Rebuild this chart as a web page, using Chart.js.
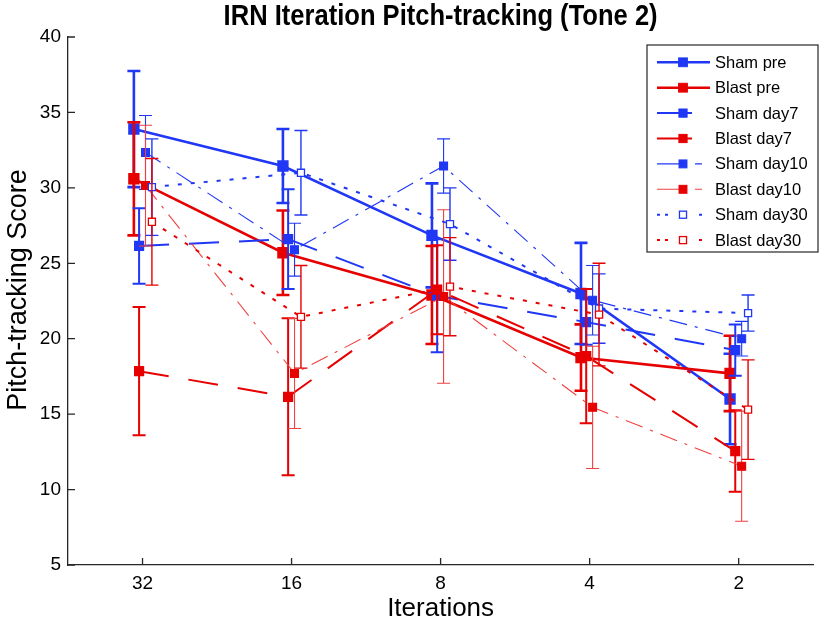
<!DOCTYPE html>
<html>
<head>
<meta charset="utf-8">
<script src="https://cdn.jsdelivr.net/npm/chart.js@4.4.1/dist/chart.umd.min.js"></script>
<style>
  html, body { margin: 0; padding: 0; background: #fff; }
  canvas { display: block; }
</style>
</head>
<body>
<canvas id="pitchChart" width="822" height="625"></canvas>
<script>
// categories on the x axis (IRN iterations)
const categories = ['32', '16', '8', '4', '2'];
const yTickStep = 5;

// mean scores and error half-widths
const shamPre = [33.9, 31.45, 26.85, 23.0, 16.0];
const shamPreErr = [3.85, 2.45, 3.45, 3.35, 3.0];
const blastPre = [30.6, 25.7, 22.9, 18.75, 17.7];
const blastPreErr = [3.75, 2.8, 3.25, 2.2, 2.5];
const shamDay7 = [26.15, 26.6, 22.85, 21.1, 19.25];
const shamDay7Err = [2.5, 3.3, 3.75, 1.5, 1.7];
const blastDay7 = [17.85, 16.15, 23.25, 18.85, 12.55];
const blastDay7Err = [4.25, 5.2, 2.95, 4.45, 2.7];
const shamDay10 = [32.35, 25.9, 31.45, 22.55, 20.0];
const shamDay10Err = [2.45, 1.75, 1.8, 2.3, 1.15];
const blastDay10 = [30.15, 17.7, 22.8, 15.45, 11.55];
const blastDay10Err = [4.0, 3.65, 5.75, 4.05, 3.65];
const shamDay30 = [30.05, 31.0, 27.6, 22.0, 21.7];
const shamDay30Err = [3.2, 2.8, 2.4, 2.3, 1.2];
const blastDay30 = [27.75, 21.45, 23.45, 21.6, 15.3];
const blastDay30Err = [4.2, 3.4, 3.25, 3.4, 3.3];

const BLUE = '#2038f5';
const RED = '#e60000';
const PALE_RED = '#f04040';
const FONT = '"Liberation Sans", Arial, sans-serif';

// small horizontal jitter per session so bars don't overlap
const jitter = { pre: -0.058, day7: -0.023, day10: 0.02, day30: 0.063 };
// dash used for the short sample line in the legend box
const legendDash = { pre: [], day7: [35, 100], day10: [30, 8, 7, 100], day30: [3, 5, 3, 31, 3, 100] };

function makeSeries(label, values, errs, session, style) {
    return Object.assign({
        label: label,
        session: session,
        data: values.map((v, i) => ({ x: i + 1 + jitter[session], y: v })),
        errors: errs,
        showLine: true,
        pointStyle: 'rect',
        tension: 0,
        fill: false
    }, style);
}

const datasets = [
    makeSeries('Sham pre', shamPre, shamPreErr, 'pre', { borderColor: BLUE, borderWidth: 2.6, pointRadius: 6.2, pointBackgroundColor: BLUE, pointBorderColor: BLUE, errWidth: 2.6 }),
    makeSeries('Blast pre', blastPre, blastPreErr, 'pre', { borderColor: RED, borderWidth: 2.6, pointRadius: 6.2, pointBackgroundColor: RED, pointBorderColor: RED, errWidth: 2.6 }),
    makeSeries('Sham day7', shamDay7, shamDay7Err, 'day7', { borderColor: BLUE, borderWidth: 2, borderDash: [30, 20], pointRadius: 5.8, pointBackgroundColor: BLUE, pointBorderColor: BLUE, errWidth: 2 }),
    makeSeries('Blast day7', blastDay7, blastDay7Err, 'day7', { borderColor: RED, borderWidth: 2, borderDash: [30, 20], pointRadius: 5.8, pointBackgroundColor: RED, pointBorderColor: RED, errWidth: 2 }),
    makeSeries('Sham day10', shamDay10, shamDay10Err, 'day10', { borderColor: BLUE, borderWidth: 1.1, borderDash: [18, 8, 3, 8], pointRadius: 5.6, pointBackgroundColor: BLUE, pointBorderColor: BLUE, errWidth: 1.1 }),
    makeSeries('Blast day10', blastDay10, blastDay10Err, 'day10', { borderColor: PALE_RED, borderWidth: 1.1, borderDash: [18, 8, 3, 8], pointRadius: 5.6, pointBackgroundColor: RED, pointBorderColor: RED, errWidth: 1.1 }),
    makeSeries('Sham day30', shamDay30, shamDay30Err, 'day30', { borderColor: BLUE, borderWidth: 2, borderDash: [4, 9], pointRadius: 5, pointBorderWidth: 1.3, pointBackgroundColor: '#fff', pointBorderColor: BLUE, errWidth: 1.4 }),
    makeSeries('Blast day30', blastDay30, blastDay30Err, 'day30', { borderColor: RED, borderWidth: 2, borderDash: [4, 9], pointRadius: 5, pointBorderWidth: 1.3, pointBackgroundColor: '#fff', pointBorderColor: RED, errWidth: 1.4 })
];
// later series sit on top, like the original plot
datasets.forEach((d, i) => { d.order = datasets.length - i; });

const errorBars = {
    id: 'errorBars',
    beforeDatasetDraw(chart, args) {
        const ds = chart.data.datasets[args.index];
        const ctx = chart.ctx;
        const yScale = chart.scales.y;
        ctx.save();
        ctx.strokeStyle = ds.borderColor;
        ctx.lineWidth = ds.errWidth;
        ctx.setLineDash([]);
        args.meta.data.forEach((pt, i) => {
            const v = ds.data[i].y;
            const e = ds.errors[i];
            const top = yScale.getPixelForValue(v + e);
            const bot = yScale.getPixelForValue(v - e);
            const cap = 6.5;
            ctx.beginPath();
            ctx.moveTo(pt.x, top); ctx.lineTo(pt.x, bot);
            ctx.moveTo(pt.x - cap, top); ctx.lineTo(pt.x + cap, top);
            ctx.moveTo(pt.x - cap, bot); ctx.lineTo(pt.x + cap, bot);
            ctx.stroke();
        });
        ctx.restore();
    }
};

// MATLAB style inward ticks, titles and boxed legend
const decorations = {
    id: 'decorations',
    afterDraw(chart) {
        const ctx = chart.ctx;
        const area = chart.chartArea;
        const xs = chart.scales.x, ys = chart.scales.y;
        ctx.save();
        ctx.strokeStyle = '#262626';
        ctx.lineWidth = 1.3;
        ctx.setLineDash([]);
        ctx.beginPath();
        xs.ticks.forEach(t => {
            const px = xs.getPixelForValue(t.value);
            ctx.moveTo(px, area.bottom); ctx.lineTo(px, area.bottom - 7);
        });
        ys.ticks.forEach(t => {
            const py = ys.getPixelForValue(t.value);
            ctx.moveTo(area.left, py); ctx.lineTo(area.left + 7, py);
        });
        ctx.stroke();

        // title, squeezed a little like the condensed original
        const title = 'IRN Iteration Pitch-tracking (Tone 2)';
        ctx.font = 'bold 29px ' + FONT;
        ctx.fillStyle = '#000';
        ctx.textBaseline = 'middle';
        ctx.textAlign = 'left';
        const w = ctx.measureText(title).width;
        const target = 434;
        const cx = (area.left + area.right) / 2;
        ctx.save();
        ctx.translate(cx - target / 2, 17);
        ctx.scale(target / w, 1);
        ctx.fillText(title, 0, 0);
        ctx.restore();

        // y axis title
        ctx.save();
        ctx.font = '27px ' + FONT;
        ctx.textAlign = 'center';
        ctx.textBaseline = 'middle';
        ctx.translate(19, 290);
        ctx.rotate(-Math.PI / 2);
        ctx.fillText('Pitch-tracking Score', 0, 0);
        ctx.restore();

        // legend
        const box = { left: 647, top: 45, right: 818, bottom: 252 };
        ctx.fillStyle = '#fff';
        ctx.fillRect(box.left, box.top, box.right - box.left, box.bottom - box.top);
        ctx.strokeStyle = '#262626';
        ctx.lineWidth = 1.2;
        ctx.strokeRect(box.left, box.top, box.right - box.left, box.bottom - box.top);
        ctx.font = '16.5px ' + FONT;
        chart.data.datasets.forEach((ds, i) => {
            const y = 62.3 + i * 25.4;
            ctx.save();
            ctx.strokeStyle = ds.borderColor;
            ctx.lineWidth = ds.borderWidth;
            ctx.setLineDash(legendDash[ds.session]);
            ctx.beginPath();
            ctx.moveTo(657, y); ctx.lineTo(710, y);
            ctx.stroke();
            ctx.restore();
            ctx.save();
            ctx.fillStyle = ds.pointBackgroundColor;
            ctx.strokeStyle = ds.pointBorderColor;
            ctx.lineWidth = ds.pointBorderWidth || 1;
            const s = ds.pointRadius * Math.SQRT1_2;
            ctx.fillRect(683 - s, y - s, 2 * s, 2 * s);
            ctx.strokeRect(683 - s, y - s, 2 * s, 2 * s);
            ctx.restore();
            ctx.fillStyle = '#000';
            ctx.textAlign = 'left';
            ctx.fillText(ds.label, 715, y + 1);
        });
        ctx.restore();
    }
};

new Chart(document.getElementById('pitchChart'), {
    type: 'line',
    data: { datasets: datasets },
    options: {
        responsive: false,
        animation: false,
        devicePixelRatio: 1,
        layout: { padding: { top: 37, right: 1, left: 0, bottom: 0 } },
        plugins: { legend: { display: false }, tooltip: { enabled: false } },
        scales: {
            x: {
                type: 'linear',
                min: 0.5,
                max: 5.5,
                afterFit: s => { s.height = 60; },
                afterBuildTicks: s => { s.ticks = categories.map((c, i) => ({ value: i + 1 })); },
                grid: { display: false, drawTicks: false },
                border: { color: '#262626', width: 1.3 },
                ticks: {
                    color: '#000', padding: 7,
                    font: { size: 19, family: FONT },
                    callback: v => categories[v - 1]
                },
                title: {
                    display: true, text: 'Iterations', color: '#000', padding: { top: 0, bottom: 1 },
                    font: { size: 26, family: FONT }
                }
            },
            y: {
                min: 5,
                max: 40,
                afterFit: s => { s.width = 68; },
                grid: { display: false, drawTicks: false },
                border: { color: '#262626', width: 1.3 },
                ticks: {
                    stepSize: yTickStep, color: '#000', padding: 7,
                    font: { size: 19, family: FONT }
                },
                title: { display: false }
            }
        }
    },
    plugins: [errorBars, decorations]
});
</script>
</body>
</html>
